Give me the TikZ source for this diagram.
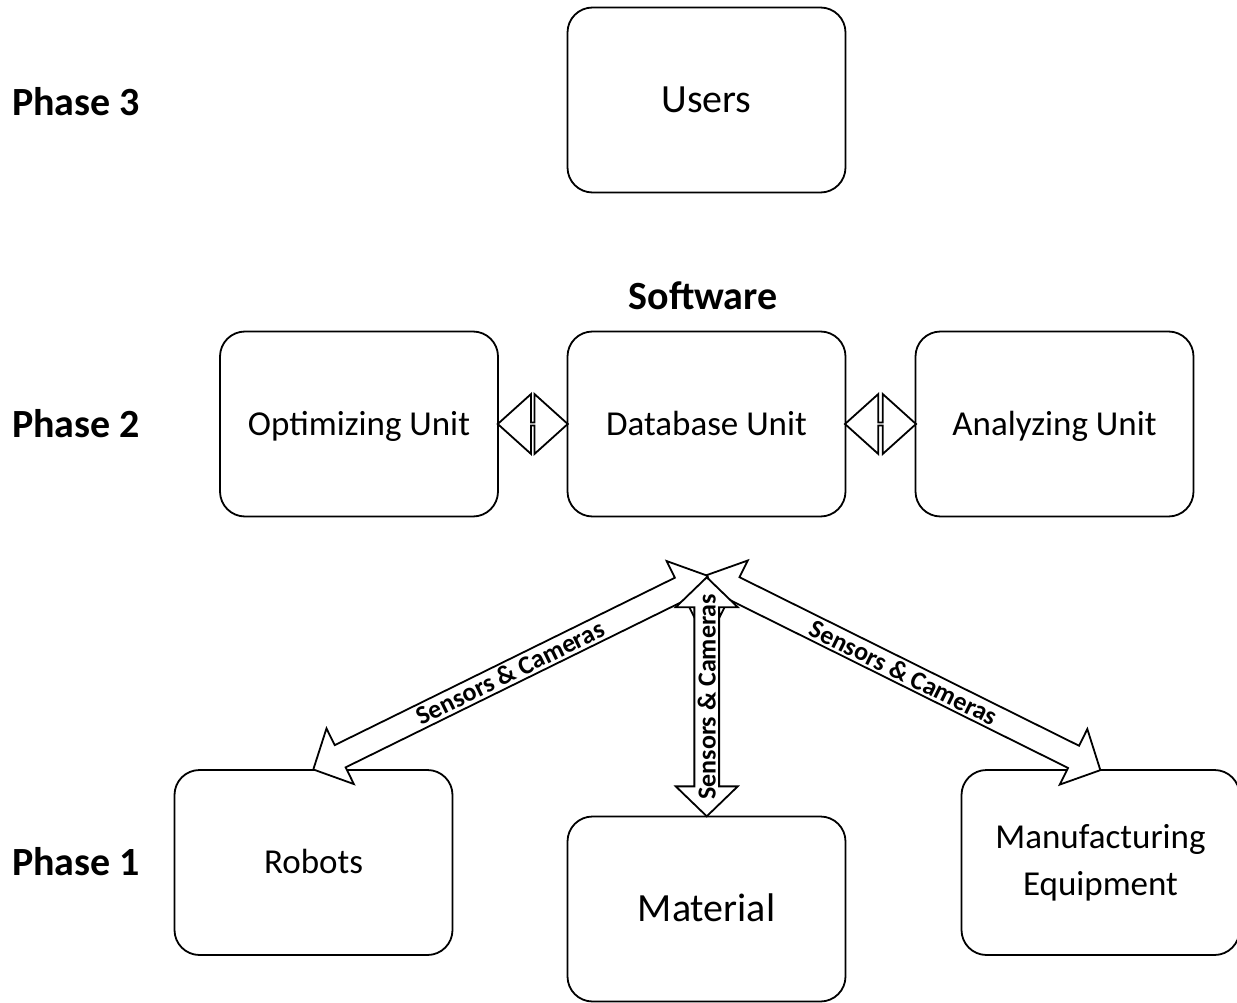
\documentclass[tikz,border=0pt]{standalone}
\usepackage{fontspec}
\setmainfont{Carlito}
\usetikzlibrary{shapes.arrows,calc}
\begin{document}
\begin{tikzpicture}[x=1pt,y=-1pt,
  box/.style={draw, line width=1.8pt, rounded corners=25pt, minimum width=278pt, minimum height=185pt, inner sep=0pt, align=center, font=\fontsize{35}{47}\selectfont},
  oneline/.style={text height=22pt, text depth=0pt},
  bigbox/.style={box, font=\fontsize{40}{48}\selectfont, text height=25pt, text depth=0pt},
  phase/.style={anchor=west, inner sep=0pt, font=\bfseries\fontsize{40}{48}\selectfont},
  link/.style={double arrow, draw, fill=white, line width=1.8pt, inner sep=0pt, minimum width=60pt, double arrow head extend=16pt, double arrow tip angle=84},
  feed/.style={double arrow, draw, fill=white, line width=1.8pt, inner sep=0pt, minimum width=62pt, double arrow head extend=15pt, double arrow tip angle=92, font=\bfseries\fontsize{26}{30}\selectfont}
]
\useasboundingbox (0,0) rectangle (1237,1003);
% phase labels
\node[phase] (p3) at (12,102) {Phase 3};
\node[phase] (p2) at (12,424) {Phase 2};
\node[phase] (p1) at (12,862) {Phase 1};
% boxes
\node[bigbox] (users) at (706.5,100) {Users};
\node[inner sep=0pt, font=\bfseries\fontsize{40}{48}\selectfont] (soft) at (703,296) {Software};
\node[box, oneline] (opt) at (359,424) {Optimizing Unit};
\node[box, oneline] (db) at (706.5,424) {Database Unit};
\node[box, oneline] (ana) at (1054.5,424) {Analyzing Unit};
\node[box, oneline] (rob) at (313.5,862.5) {Robots};
\node[bigbox] (mat) at (706.5,909) {Material};
\node[box] (man) at (1100.5,862.5) {Manufacturing\\Equipment};
% links between software units
\node[link, minimum height=70pt] (l1) at ($(opt.east)!0.5!(db.west)$) {};
\node[link, minimum height=71pt] (l2) at ($(db.east)!0.5!(ana.west)$) {};
% sensor arrows
\coordinate (hub) at (707,576);
\coordinate (hubm) at (707,578);
\node[feed, minimum height=439pt, rotate=26.2] (sL) at ($(hub)!0.5!(rob.north)$) {Sensors \& Cameras};
\node[feed, minimum height=439pt, rotate=-26.4] (sR) at ($(hub)!0.5!(man.north)$) {Sensors \& Cameras};
\node[feed, minimum height=239pt, rotate=90] (sM) at ($(hubm)!0.5!(mat.north)$) {Sensors \& Cameras};
\end{tikzpicture}
\end{document}
